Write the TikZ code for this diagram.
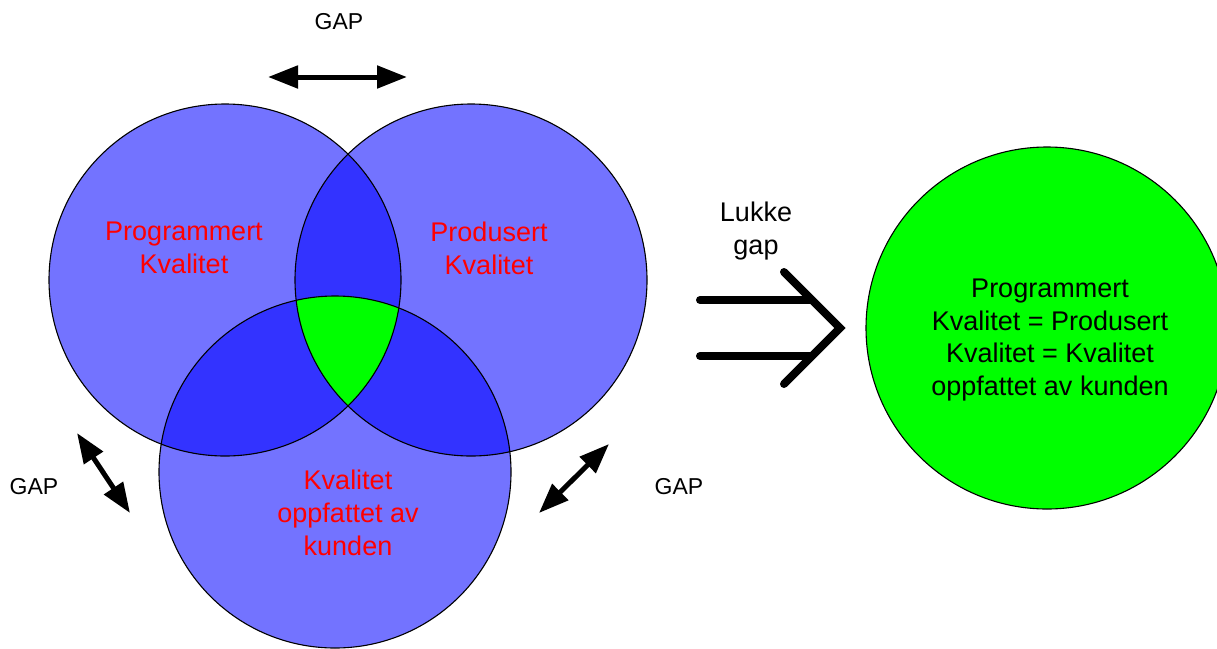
\documentclass[tikz,border=0pt]{standalone}
\usepackage{fontspec}
\setmainfont{Liberation Sans}
\usetikzlibrary{arrows.meta}
\definecolor{vennblue}{RGB}{0,0,255}
\definecolor{coregreen}{RGB}{0,255,0}
\definecolor{labelred}{RGB}{255,0,0}
\begin{document}
\begin{tikzpicture}[x=1pt,y=-1pt,
  vennfill/.style={fill=vennblue, fill opacity=0.55},
  ring/.style={draw=black, line width=1.1pt},
  redlabel/.style={text=labelred, align=center, font=\fontsize{27}{33}\selectfont},
  blacklabel/.style={text=black, align=center, font=\fontsize{27}{32.5}\selectfont},
  gaplabel/.style={font=\fontsize{23}{27}\selectfont},
  gaparrow/.style={line width=5pt,
    {Triangle[length=30pt,width=22pt]}-{Triangle[length=30pt,width=22pt]}},
  bigstroke/.style={line width=8pt, line cap=round, line join=miter}
]
\useasboundingbox[fill=white] (0,0) rectangle (1217,648);

% centres of the three quality circles
\coordinate (cP) at (225,280);
\coordinate (cR) at (471,280);
\coordinate (cK) at (335,472);

% translucent fills: overlaps darken
\fill[vennfill] (cP) circle[radius=176pt];
\fill[vennfill] (cR) circle[radius=176pt];
\fill[vennfill] (cK) circle[radius=176pt];

% common core of all three
\begin{scope}
  \clip (cP) circle[radius=176pt];
  \clip (cR) circle[radius=176pt];
  \fill[coregreen] (cK) circle[radius=176pt];
\end{scope}

% outlines
\draw[ring] (cP) circle[radius=176pt];
\draw[ring] (cR) circle[radius=176pt];
\draw[ring] (cK) circle[radius=176pt];

% circle labels
\node[redlabel] (tP) at (184,248) {Programmert\\Kvalitet};
\node[redlabel] (tR) at (489,248) {Produsert\\Kvalitet};
\node[redlabel] (tK) at (348,513) {Kvalitet\\oppfattet av\\kunden};

% gaps between the circles
\coordinate (gTa) at (268,77);
\coordinate (gTb) at (407,77);
\draw[gaparrow] (gTa) -- (gTb);
\node[gaplabel] (gT) at (339,22) {GAP};

\coordinate (gLa) at (77,433);
\coordinate (gLb) at (130,513);
\draw[gaparrow] (gLa) -- (gLb);
\node[gaplabel] (gL) at (34,487) {GAP};

\coordinate (gRa) at (539,513);
\coordinate (gRb) at (609,444);
\draw[gaparrow] (gRa) -- (gRb);
\node[gaplabel] (gR) at (679,487) {GAP};

% closing the gap: implication arrow
\node[blacklabel] (lk) at (756,231) {Lukke\\gap};
\coordinate (i1s) at (700,300);
\coordinate (i1e) at (810,300);
\coordinate (i2s) at (700,356);
\coordinate (i2e) at (810,356);
\coordinate (chA) at (784,272);
\coordinate (chT) at (840,328);
\coordinate (chB) at (784,384);
\draw[bigstroke] (i1s) -- (i1e);
\draw[bigstroke] (i2s) -- (i2e);
\draw[bigstroke] (chA) -- (chT) -- (chB);

% result
\node[circle, minimum size=362pt, inner sep=0pt, fill=coregreen, ring] (res) at (1047,328) {};
\node[blacklabel] (rt) at (1050,340) {Programmert\\Kvalitet = Produsert\\Kvalitet = Kvalitet\\oppfattet av kunden};
\end{tikzpicture}
\end{document}
